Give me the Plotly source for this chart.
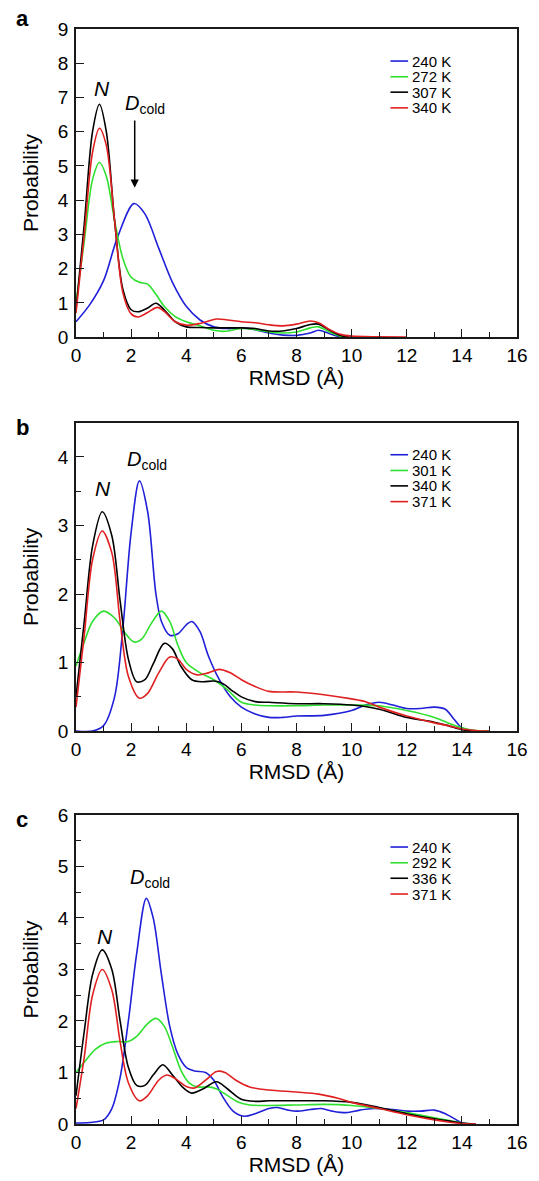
import plotly.graph_objects as go

# ---- RMSD probability distributions, three systems (a, b, c) ----

# Panel a: temperatures and curves
a_labels = ["240 K", "272 K", "307 K", "340 K"]
a_240_x = [0, 0.5, 1.0, 1.5, 2.1, 2.5, 3.0, 3.5, 4.0, 4.5, 5.0, 5.5, 6.0, 6.5, 7.0, 7.5, 8.0, 8.5, 8.8, 9.2, 9.6, 10.0]
a_240_y = [0.45, 0.95, 1.65, 2.9, 3.9, 3.6, 2.6, 1.6, 0.9, 0.5, 0.3, 0.25, 0.27, 0.22, 0.12, 0.06, 0.05, 0.12, 0.2, 0.1, 0.01, 0.0]
a_272_x = [0, 0.3, 0.6, 0.85, 1.1, 1.4, 1.7, 2.0, 2.3, 2.6, 2.9, 3.2, 3.6, 4.0, 4.5, 5.0, 5.4, 6.0, 6.5, 7.0, 7.5, 8.0, 8.5, 8.8, 9.2, 9.6, 10.0]
a_272_y = [1.0, 2.8, 4.6, 5.1, 4.7, 3.4, 2.3, 1.75, 1.6, 1.55, 1.25, 0.9, 0.6, 0.45, 0.33, 0.2, 0.17, 0.25, 0.22, 0.15, 0.12, 0.15, 0.27, 0.3, 0.15, 0.03, 0.0]
a_307_x = [0, 0.3, 0.6, 0.85, 1.1, 1.4, 1.7, 2.0, 2.25, 2.6, 2.9, 3.2, 3.6, 4.0, 4.5, 5.0, 5.5, 6.0, 6.5, 7.0, 7.5, 8.0, 8.5, 8.8, 9.2, 9.6, 10.0]
a_307_y = [0.8, 3.3, 6.0, 6.8, 6.0, 3.4, 1.4, 0.8, 0.74, 0.85, 0.99, 0.8, 0.45, 0.3, 0.28, 0.27, 0.27, 0.27, 0.25, 0.18, 0.18, 0.25, 0.37, 0.38, 0.2, 0.05, 0.0]
a_340_x = [0, 0.3, 0.6, 0.85, 1.1, 1.4, 1.7, 2.0, 2.25, 2.6, 2.95, 3.2, 3.6, 4.0, 4.5, 5.1, 5.5, 6.0, 6.5, 7.0, 7.5, 8.0, 8.5, 8.8, 9.2, 9.6, 10.0, 11.0, 12.0]
a_340_y = [0.7, 3.0, 5.4, 6.1, 5.6, 3.4, 1.3, 0.68, 0.59, 0.72, 0.87, 0.75, 0.45, 0.35, 0.4, 0.53, 0.5, 0.45, 0.42, 0.36, 0.33, 0.38, 0.47, 0.42, 0.22, 0.08, 0.03, 0.01, 0.0]

# Panel b
b_labels = ["240 K", "301 K", "340 K", "371 K"]
b_240_x = [0, 0.6, 1.0, 1.4, 1.7, 2.0, 2.3, 2.6, 2.9, 3.1, 3.4, 3.7, 4.0, 4.2, 4.5, 4.8, 5.2, 5.6, 6.0, 6.5, 7.0, 7.5, 8.0, 9.0, 10.0, 10.5, 11.0, 11.5, 12.0, 12.5, 13.0, 13.4, 13.7, 14.0, 14.4, 15.0]
b_240_y = [0.0, 0.0, 0.08, 0.5, 1.5, 2.9, 3.65, 3.2, 2.0, 1.6, 1.4, 1.42, 1.55, 1.6, 1.45, 1.1, 0.75, 0.5, 0.35, 0.25, 0.2, 0.2, 0.22, 0.23, 0.3, 0.38, 0.42, 0.38, 0.33, 0.33, 0.35, 0.32, 0.18, 0.05, 0.0, 0.0]
b_301_x = [0, 0.3, 0.6, 1.0, 1.4, 1.8, 2.1, 2.4, 2.7, 3.1, 3.4, 3.7, 4.0, 4.5, 5.0, 5.5, 6.0, 6.5, 7.0, 8.0, 9.0, 10.0, 11.0, 12.0, 13.0, 13.5, 14.0, 14.5, 15.0]
b_301_y = [0.95, 1.3, 1.6, 1.75, 1.65, 1.42, 1.3, 1.35, 1.55, 1.75, 1.6, 1.25, 1.0, 0.85, 0.75, 0.6, 0.42, 0.38, 0.37, 0.37, 0.38, 0.38, 0.37, 0.3, 0.2, 0.12, 0.05, 0.01, 0.0]
b_340_x = [0, 0.3, 0.6, 0.95, 1.3, 1.6, 1.9, 2.2, 2.5, 2.8, 3.2, 3.5, 3.8, 4.2, 4.6, 5.0, 5.3, 5.7, 6.0, 6.5, 7.0, 8.0, 9.0, 10.0, 11.0, 12.0, 13.0, 13.5, 14.0, 14.5]
b_340_y = [0.5, 1.6, 2.7, 3.2, 2.85, 1.9, 1.05, 0.72, 0.75, 0.98, 1.28, 1.2, 0.95, 0.75, 0.72, 0.73, 0.7, 0.58, 0.5, 0.43, 0.42, 0.4, 0.4, 0.38, 0.32, 0.2, 0.13, 0.08, 0.02, 0.0]
b_371_x = [0, 0.3, 0.6, 0.95, 1.3, 1.6, 1.9, 2.3, 2.6, 3.0, 3.4, 3.7, 4.0, 4.4, 4.8, 5.2, 5.6, 6.0, 6.5, 7.0, 8.0, 9.0, 10.0, 10.5, 11.0, 12.0, 13.0, 13.5, 14.0, 14.5, 15.0]
b_371_y = [0.35, 1.4, 2.5, 2.92, 2.6, 1.6, 0.8, 0.48, 0.55, 0.85, 1.08, 1.05, 0.9, 0.82, 0.85, 0.9, 0.85, 0.75, 0.65, 0.58, 0.57, 0.53, 0.47, 0.43, 0.35, 0.22, 0.12, 0.08, 0.03, 0.01, 0.0]

# Panel c
c_labels = ["240 K", "292 K", "336 K", "371 K"]
c_240_x = [0, 0.5, 1.0, 1.3, 1.6, 1.9, 2.2, 2.55, 2.8, 3.1, 3.4, 3.7, 4.0, 4.3, 4.7, 5.0, 5.3, 5.7, 6.1, 6.5, 7.0, 7.3, 7.7, 8.0, 8.5, 8.9, 9.3, 9.8, 10.3, 10.8, 11.5, 12.0, 12.5, 13.0, 13.4, 13.8, 14.0, 14.3]
c_240_y = [0.02, 0.03, 0.08, 0.3, 0.9, 2.0, 3.3, 4.38, 4.0, 2.9, 1.9, 1.35, 1.1, 1.03, 1.0, 0.85, 0.55, 0.25, 0.15, 0.2, 0.3, 0.32, 0.27, 0.25, 0.28, 0.3, 0.25, 0.22, 0.27, 0.3, 0.28, 0.25, 0.25, 0.27, 0.2, 0.08, 0.02, 0.0]
c_292_x = [0, 0.3, 0.7, 1.1, 1.5, 1.9, 2.2, 2.6, 2.9, 3.2, 3.5, 3.8, 4.1, 4.4, 4.8, 5.1, 5.5, 5.9, 6.3, 7.0, 8.0, 9.0, 10.0, 11.0, 12.0, 13.0, 13.5, 14.0, 14.3]
c_292_y = [1.0, 1.2, 1.45, 1.57, 1.6, 1.6, 1.7, 1.95, 2.05, 1.9, 1.5, 1.05, 0.8, 0.72, 0.72, 0.68, 0.55, 0.42, 0.37, 0.36, 0.37, 0.38, 0.36, 0.3, 0.22, 0.12, 0.07, 0.02, 0.0]
c_336_x = [0, 0.3, 0.6, 0.95, 1.3, 1.6, 1.9, 2.2, 2.5, 2.8, 3.15, 3.5, 3.9, 4.2, 4.6, 5.1, 5.5, 6.0, 6.5, 7.0, 8.0, 9.0, 10.0, 11.0, 12.0, 13.0, 13.5, 14.0, 14.5]
c_336_y = [0.55, 1.8, 2.9, 3.38, 3.0, 2.0, 1.1, 0.75, 0.75, 0.95, 1.15, 0.95, 0.7, 0.6, 0.68, 0.82, 0.68, 0.48, 0.44, 0.45, 0.45, 0.45, 0.42, 0.32, 0.2, 0.1, 0.06, 0.02, 0.0]
c_371_x = [0, 0.3, 0.6, 0.95, 1.3, 1.6, 1.9, 2.3, 2.6, 3.0, 3.3, 3.6, 4.0, 4.3, 4.7, 5.1, 5.4, 5.8, 6.3, 7.0, 8.0, 8.8, 9.5, 10.0, 11.0, 12.0, 13.0, 13.5, 14.0, 14.5]
c_371_y = [0.3, 1.3, 2.5, 3.0, 2.6, 1.6, 0.8, 0.45, 0.55, 0.85, 0.95, 0.88, 0.73, 0.7, 0.85, 1.02, 1.0, 0.85, 0.72, 0.66, 0.62, 0.58, 0.5, 0.42, 0.3, 0.18, 0.08, 0.04, 0.01, 0.0]

colors = ["#2020d8", "#30e030", "#000000", "#e02020"]
FONT = "Liberation Sans, Arial, Helvetica, sans-serif"

panels = [
    dict(labels=a_labels, series=[(a_240_x, a_240_y), (a_272_x, a_272_y), (a_307_x, a_307_y), (a_340_x, a_340_y)],
         ymax=9, dtick=1, minor=None, domain=[0.7186, 1.0], letter="a"),
    dict(labels=b_labels, series=[(b_240_x, b_240_y), (b_301_x, b_301_y), (b_340_x, b_340_y), (b_371_x, b_371_y)],
         ymax=4.5, dtick=1, minor=0.5, domain=[0.3588, 0.6405], letter="b"),
    dict(labels=c_labels, series=[(c_240_x, c_240_y), (c_292_x, c_292_y), (c_336_x, c_336_y), (c_371_x, c_371_y)],
         ymax=6, dtick=1, minor=0.5, domain=[0.0, 0.2823], letter="c"),
]

# label positions (data units) for the N and D_cold markers in each panel
n_pos = [(0.95, 7.25), (0.98, 3.54), (1.05, 3.64)]
d_pos = [(2.5, 6.79), (2.58, 3.95), (2.68, 4.77)]

fig = go.Figure()
layout = dict(
    width=539, height=1181,
    margin=dict(l=76, r=11, t=29, b=54),
    paper_bgcolor="white", plot_bgcolor="white",
    showlegend=False,
    font=dict(family=FONT, color="black"),
    annotations=[], shapes=[],
)

legend_rows = [0.896, 0.845, 0.795, 0.744]

for i, p in enumerate(panels):
    sfx = "" if i == 0 else str(i + 1)
    xa, ya = "x" + sfx, "y" + sfx
    for (xs, ys), name, col in zip(p["series"], p["labels"], colors):
        fig.add_trace(go.Scatter(
            x=xs, y=ys, name=name, mode="lines", xaxis=xa, yaxis=ya,
            line=dict(color=col, width=1.6, shape="spline", smoothing=0.9),
        ))
    axis_common = dict(
        showgrid=False, zeroline=False, showline=True, linecolor="#1a1a1a", linewidth=1.6,
        mirror=True, ticks="inside", ticklen=8, tickwidth=1.2, tickcolor="#1a1a1a",
        tickfont=dict(family=FONT, size=19, color="black"),
    )
    xminor = dict(ticks="inside", ticklen=5, tickwidth=1.2, tickcolor="#1a1a1a", dtick=1)
    layout["xaxis" + sfx] = dict(
        axis_common, range=[0, 16], dtick=2, tick0=0, anchor=ya, domain=[0, 1],
        minor=xminor,
        title=dict(text="RMSD (Å)", font=dict(family=FONT, size=21), standoff=3),
    )
    yax = dict(
        axis_common, range=[0, p["ymax"]], dtick=p["dtick"], tick0=0, anchor=xa, domain=p["domain"],
        ticklabelstandoff=2,
        title=dict(text="Probability", font=dict(family=FONT, size=21), standoff=13),
    )
    if p["minor"]:
        yax["minor"] = dict(ticks="inside", ticklen=5, tickwidth=1.2, tickcolor="#1a1a1a", dtick=p["minor"])
    layout["yaxis" + sfx] = yax

    # legend built inside each panel
    for name, col, ry in zip(p["labels"], colors, legend_rows):
        layout["shapes"].append(dict(
            type="line", xref=xa + " domain", yref=ya + " domain",
            x0=0.713, x1=0.753, y0=ry, y1=ry, line=dict(color=col, width=1.6),
        ))
        layout["annotations"].append(dict(
            text=name, xref=xa + " domain", yref=ya + " domain", x=0.757, y=ry,
            xanchor="left", yanchor="middle", showarrow=False,
            font=dict(family=FONT, size=15, color="black"),
        ))

    # state labels
    nx, ny = n_pos[i]
    layout["annotations"].append(dict(
        text="<i>N</i>", x=nx, y=ny, xref=xa, yref=ya, showarrow=False,
        font=dict(family=FONT, size=21, color="black"),
    ))
    dx, dy = d_pos[i]
    layout["annotations"].append(dict(
        text="<i>D</i><sub>cold</sub>", x=dx, y=dy, xref=xa, yref=ya, showarrow=False,
        font=dict(family=FONT, size=20, color="black"),
    ))

    # panel letter
    layout["annotations"].append(dict(
        text="<b>%s</b>" % p["letter"], xref="paper", yref="paper",
        x=-0.122, y=[1.01, 0.636, 0.278][i], xanchor="center", yanchor="middle",
        showarrow=False, font=dict(family=FONT, size=22, color="black"),
    ))

# arrow pointing at the D_cold peak in panel a
layout["annotations"].append(dict(
    x=2.13, y=4.36, ax=2.13, ay=6.37, xref="x", yref="y", axref="x", ayref="y",
    text="", showarrow=True, arrowhead=2, arrowsize=1.1, arrowwidth=1.5, arrowcolor="black",
))

fig.update_layout(**layout)
fig.write_html("out.html")
